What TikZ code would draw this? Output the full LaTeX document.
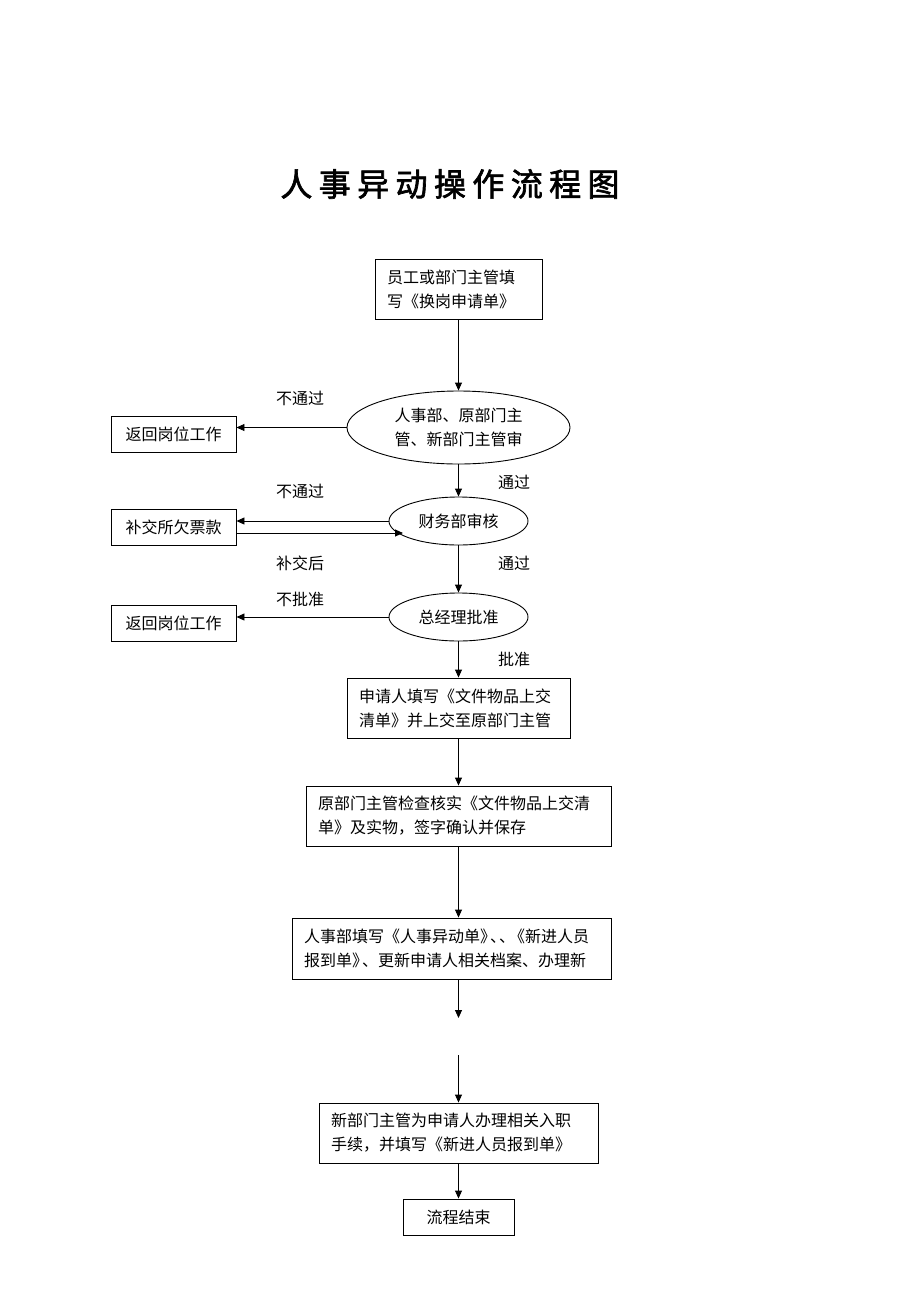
\documentclass[tikz,border=0pt]{standalone}
\usepackage{fontspec}
\setmainfont{Noto Sans CJK SC}
\newfontfamily\titlefont[LetterSpace=20,FakeBold=2]{Noto Sans CJK SC}
\usetikzlibrary{shapes.geometric,arrows.meta}
\begin{document}
\begin{tikzpicture}[x=1pt,y=-1pt,
  every node/.style={font=\fontsize{16}{24}\selectfont},
  box/.style={draw,line width=0.9pt,rectangle,inner xsep=12pt,inner ysep=0pt,align=left},
  sbox/.style={draw,line width=0.9pt,rectangle,inner sep=0pt,align=center,minimum width=125pt,minimum height=36pt},
  oval/.style={draw,line width=0.9pt,ellipse,inner sep=0pt,align=center},
  lbl/.style={inner sep=0pt},
  arr/.style={line width=0.9pt,-{Triangle[length=8pt,width=7pt]}}]
\useasboundingbox[fill=white] (0,0) rectangle (920,1302);
\node[lbl,font=\titlefont\fontsize{32}{36}\selectfont] (title) at (450,184) {人事异动操作流程图};

\node[box,minimum width=167pt,minimum height=60pt,text width=143pt] (b1) at (458.5,289) {员工或部门主管填\\写《换岗申请单》};
\node[oval,minimum width=223pt,minimum height=73pt] (e1) at (458.5,427.5) {人事部、原部门主\\管、新部门主管审};
\node[sbox] (r1) at (173.5,434) {返回岗位工作};
\node[oval,minimum width=139pt,minimum height=48pt] (e2) at (458.5,521) {财务部审核};
\node[sbox] (r2) at (173.5,527) {补交所欠票款};
\node[oval,minimum width=139pt,minimum height=48pt] (e3) at (458.5,617) {总经理批准};
\node[sbox] (r3) at (173.5,623) {返回岗位工作};
\node[box,minimum width=223pt,minimum height=60pt,text width=199pt] (b4) at (458.5,708) {申请人填写《文件物品上交\\清单》并上交至原部门主管};
\node[box,minimum width=305pt,minimum height=60pt,text width=281pt] (b5) at (458.5,816) {原部门主管检查核实《文件物品上交清\\单》及实物，签字确认并保存};
\node[box,minimum width=319pt,minimum height=61pt,text width=295pt] (b6) at (451.5,948.5) {人事部填写《人事异动单》\hspace{-6pt}、\hspace{-7pt}、\hspace{-6pt}《新进人员\\报到单》\hspace{-6pt}、更新申请人相关档案、办理新};
\node[box,minimum width=279pt,minimum height=60pt,text width=255pt] (b7) at (458.5,1133) {新部门主管为申请人办理相关入职\\手续，并填写《新进人员报到单》};
\node[sbox,minimum width=111pt] (b8) at (458.5,1217) {流程结束};

\coordinate (c1) at (458.5,1018);
\coordinate (c2) at (458.5,1055);
\coordinate (m1) at (403,533);

\draw[arr] (b1.south) -- (e1.north);
\draw[arr] (e1.west) -- (r1.east |- e1.west);
\draw[arr] (e1.south) -- (e2.north);
\draw[arr] (e2.west) -- (r2.east |- e2.west);
\draw[arr] (r2.east |- m1) -- (m1);
\draw[arr] (e2.south) -- (e3.north);
\draw[arr] (e3.west) -- (r3.east |- e3.west);
\draw[arr] (e3.south) -- (b4.north);
\draw[arr] (b4.south) -- (b5.north);
\draw[arr] (b5.south) -- (b6.north -| b5.south);
\draw[arr] (b6.south -| c1) -- (c1);
\draw[arr] (c2) -- (b7.north);
\draw[arr] (b7.south) -- (b8.north);

\node[lbl] (l1) at (300,398) {不通过};
\node[lbl] (l2) at (514,482) {通过};
\node[lbl] (l3) at (300,491) {不通过};
\node[lbl] (l4) at (300,563) {补交后};
\node[lbl] (l5) at (514,563) {通过};
\node[lbl] (l6) at (300,599) {不批准};
\node[lbl] (l7) at (514,659) {批准};
\end{tikzpicture}
\end{document}
